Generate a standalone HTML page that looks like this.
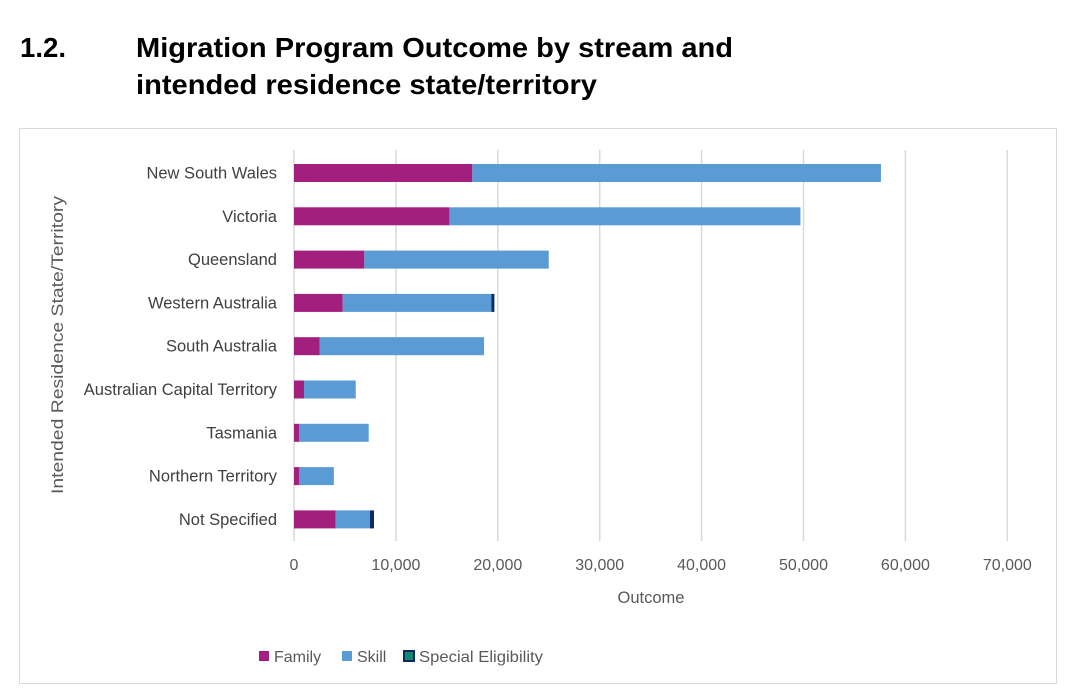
<!DOCTYPE html>
<html><head><meta charset="utf-8"><style>
body{margin:0;background:#fff;}
svg{display:block;font-family:"Liberation Sans",Arial,sans-serif;}
</style></head><body>
<svg id="chart" width="1080" height="697" viewBox="0 0 1080 697">
<text x="20" y="57" font-size="28" font-weight="bold" fill="#000" textLength="46" lengthAdjust="spacingAndGlyphs">1.2.</text>
<text x="136" y="57" font-size="28" font-weight="bold" fill="#000" textLength="597" lengthAdjust="spacingAndGlyphs">Migration Program Outcome by stream and</text>
<text x="136" y="94" font-size="28" font-weight="bold" fill="#000" textLength="461" lengthAdjust="spacingAndGlyphs">intended residence state/territory</text>
<rect x="19.5" y="128.5" width="1037" height="555" fill="#fff" stroke="#d9d9d9"/>
<g id="grid"></g><g id="bars"></g><g id="labels"></g>
<text x="651" y="603" font-size="16.5" fill="#595959" text-anchor="middle">Outcome</text>
<text transform="translate(63,345) rotate(-90)" font-size="16.5" fill="#595959" text-anchor="middle" textLength="298" lengthAdjust="spacingAndGlyphs">Intended Residence State/Territory</text>
<g>
<rect x="259" y="651" width="10" height="10" fill="#a21f7d"/>
<text x="274" y="662" font-size="16" fill="#595959">Family</text>
<rect x="342" y="651" width="10" height="10" fill="#5b9bd5"/>
<text x="357" y="662" font-size="16" fill="#595959">Skill</text>
<rect x="404" y="651" width="10" height="10" fill="#0f8a6e" stroke="#0b2a66" stroke-width="2"/>
<text x="419" y="662" font-size="16" fill="#595959" textLength="124" lengthAdjust="spacingAndGlyphs">Special Eligibility</text>
</g>
</svg>
<script>
const categories=["New South Wales","Victoria","Queensland","Western Australia","South Australia","Australian Capital Territory","Tasmania","Northern Territory","Not Specified"];
const family=[17500,15250,6900,4780,2500,980,490,490,4090];
const skill=[40100,34450,18100,14590,16150,5080,6840,3420,3370];
const special=[0,0,0,190,0,0,0,0,390];
const ticks=[0,10000,20000,30000,40000,50000,60000,70000];
const tickLabels=["0","10,000","20,000","30,000","40,000","50,000","60,000","70,000"];
const NS="http://www.w3.org/2000/svg";
const x0=294,pxPer=101.9/10000;
function xs(v){return x0+v*pxPer;}
function yc(i){return 173+i*43.3;}
function mk(tag,attrs,parent){const e=document.createElementNS(NS,tag);for(const k in attrs)e.setAttribute(k,attrs[k]);parent.appendChild(e);return e;}
const grid=document.getElementById('grid'),bars=document.getElementById('bars'),labels=document.getElementById('labels');
ticks.forEach((t,i)=>{
 const l=mk('line',{x1:xs(t),x2:xs(t),y1:150,y2:541,stroke:'#d9d9d9','stroke-width':1.5},grid);
 
 
 const tx=mk('text',{x:xs(t),y:570,'font-size':16,fill:'#595959','text-anchor':'middle'},labels);
 tx.textContent=tickLabels[i];
 
 
});
categories.forEach((c,i)=>{
 const y=yc(i)-9;
 const f=mk('rect',{x:xs(0),y:y,width:family[i]*pxPer,height:18,fill:'#a21f7d'},bars);
 
 
 const s=mk('rect',{x:xs(family[i]),y:y,width:skill[i]*pxPer,height:18,fill:'#5b9bd5'},bars);
 
 
 if(special[i]>0){
  const p=mk('rect',{x:xs(family[i]+skill[i]),y:y,width:Math.max(special[i]*pxPer,3),height:18,fill:'#0b2a66'},bars);
  
  
 }
 const t=mk('text',{x:277,y:yc(i)+5.5,'font-size':16.5,fill:'#404040','text-anchor':'end'},labels);
 t.textContent=c;
 
 
});
</script>
</body></html>
